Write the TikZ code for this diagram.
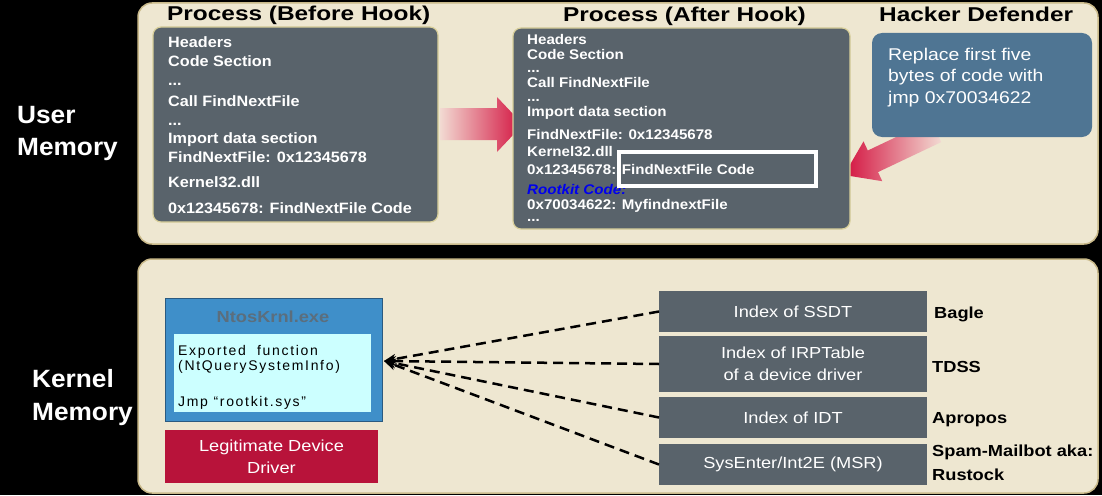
\documentclass[tikz,border=0pt]{standalone}
\usepackage{fontspec}
\setmainfont{Liberation Sans}
\newfontfamily\fT[FakeStretch=1.22]{Liberation Sans}
\newfontfamily\fL[FakeStretch=1.05]{Liberation Sans}
\newfontfamily\fB[FakeStretch=1.08]{Liberation Sans}
\newfontfamily\fA[FakeStretch=1.14]{Liberation Sans}
\newfontfamily\fS[LetterSpace=12]{Liberation Sans}
\usetikzlibrary{arrows.meta}
\definecolor{panel}{HTML}{EEE7D1}
\definecolor{panelline}{HTML}{C9B98A}
\definecolor{slate}{HTML}{59636B}
\definecolor{slateline}{HTML}{D8CF9A}
\definecolor{steel}{HTML}{4F7593}
\definecolor{ntosblue}{HTML}{3F8FC9}
\definecolor{ntosline}{HTML}{2A5A80}
\definecolor{cyanin}{HTML}{CCFFFF}
\definecolor{crimson}{HTML}{B8133A}
\definecolor{ntostitle}{HTML}{5B6E7D}
\definecolor{rkblue}{HTML}{0000EE}
\definecolor{arrowlight}{HTML}{F2DAD2}
\definecolor{arrowdark}{HTML}{D3123F}
\begin{document}
\begin{tikzpicture}[x=1pt,y=-1pt,
  panelbox/.style={fill=panel,draw=panelline,line width=1.5pt,rounded corners=14pt},
  darkbox/.style={fill=slate,draw=slateline,line width=1.2pt,rounded corners=8pt,inner sep=0pt,outer sep=0pt},
  sidelabel/.style={anchor=base west,inner sep=0pt,text=white,font=\fL\bfseries\fontsize{25}{30}\selectfont},
  titletext/.style={anchor=base west,inner sep=0pt,text=black,font=\fT\bfseries\fontsize{20}{24}\selectfont},
  beforetext/.style={anchor=base west,inner sep=0pt,text=white,font=\fB\bfseries\fontsize{15}{18}\selectfont},
  aftertext/.style={anchor=base west,inner sep=0pt,text=white,font=\fB\bfseries\fontsize{14}{17}\selectfont},
  hackertext/.style={anchor=base west,inner sep=0pt,text=white,font=\fA\fontsize{17}{20}\selectfont},
  tablebox/.style={fill=slate,inner sep=0pt,outer sep=0pt,minimum width=268pt,text=white,align=center,font=\fA\fontsize{16}{22}\selectfont},
  malware/.style={anchor=base west,inner sep=0pt,text=black,font=\fA\bfseries\fontsize{16}{19}\selectfont},
  inner/.style={anchor=base west,inner sep=0pt,text=black,font=\fS\fontsize{14}{17}\selectfont},
  hookline/.style={dash pattern=on 10pt off 6pt,line width=2.5pt,-{Stealth[length=12pt,width=10pt]}}
]
\useasboundingbox (0,0) rectangle (1102,495);
\fill[black] (0,0) rectangle (1102,495);

% panels
\draw[panelbox] (138,3) rectangle (1098,244);
\draw[panelbox] (138,259) rectangle (1098,493);

% side labels
\node[sidelabel] (lu1) at (17,123) {User};
\node[sidelabel] (lu2) at (17,155) {Memory};
\node[sidelabel] (lk1) at (32,387) {Kernel};
\node[sidelabel] (lk2) at (32,420) {Memory};

% titles
\node[titletext] (t1) at (167,21) {Process (Before Hook)};
\node[titletext] (t2) at (563,21.5) {Process (After Hook)};
\node[titletext] (t3) at (879,22) {Hacker Defender};

% big arrow between processes
\shade[left color=arrowlight,right color=arrowdark]
  (440,108) -- (497,108) -- (497,97) -- (523,124.5) -- (497,152) -- (497,140) -- (440,140) -- cycle;

% hacker arrow
\shade[left color=arrowdark,right color=arrowlight]
  (931.0,120.5) -- (867.8,150.5) -- (863.5,141.4) -- (844,175) -- (882.3,181.2) -- (878.0,172.1) -- (941.2,142.1) -- cycle;

% before box
\node[darkbox,minimum width=285pt,minimum height=195pt] (before) at (295.5,124.5) {};
\node[beforetext] (b1) at (168,47.7) {Headers};
\node[beforetext] (b2) at (168,66.7) {Code Section};
\node[beforetext] (b3) at (168,85) {...};
\node[beforetext] (b4) at (168,106) {Call FindNextFile};
\node[beforetext] (b5) at (168,125) {...};
\node[beforetext] (b6) at (168,143) {Import data section};
\node[beforetext] (b7) at (168,162.7) {FindNextFile: 0x12345678};
\node[beforetext] (b8) at (168,187.7) {Kernel32.dll};
\node[beforetext] (b9) at (168,213) {0x12345678: FindNextFile Code};

% after box
\node[darkbox,minimum width=337pt,minimum height=201pt] (after) at (681.5,128.5) {};
\node[aftertext] (a1) at (527,45) {Headers};
\node[aftertext] (a2) at (527,59.3) {Code Section};
\node[aftertext] (a3) at (527,72.3) {...};
\node[aftertext] (a4) at (527,87.3) {Call FindNextFile};
\node[aftertext] (a5) at (527,101.7) {...};
\node[aftertext] (a6) at (527,116.7) {Import data section};
\node[aftertext] (a7) at (527,139.3) {FindNextFile: 0x12345678};
\node[aftertext] (a8) at (527,156) {Kernel32.dll};
\node[aftertext] (a9) at (527,174) {0x12345678: FindNextFile Code};
\node[aftertext,text=rkblue,font=\fB\bfseries\itshape\fontsize{14}{17}\selectfont] (a10) at (527,194) {Rootkit Code:};
\node[aftertext] (a11) at (527,209.3) {0x70034622: MyfindnextFile};
\node[aftertext] (a12) at (527,221.5) {...};
\node[draw=white,line width=4pt,inner sep=0pt,minimum width=197pt,minimum height=34pt] (hl) at (717.5,169) {};

% hacker box
\node[fill=steel,rounded corners=10pt,inner sep=0pt,minimum width=220pt,minimum height=104pt] (hacker) at (982,85) {};
\node[hackertext] (h1) at (888,60) {Replace first five};
\node[hackertext] (h2) at (888,81.7) {bytes of code with};
\node[hackertext] (h3) at (888,103) {jmp 0x70034622};

% kernel: ntoskrnl
\node[fill=ntosblue,draw=ntosline,line width=1pt,inner sep=0pt,outer sep=0pt,minimum width=217pt,minimum height=123pt] (ntos) at (273.5,359.5) {};
\node[text=ntostitle,font=\fA\bfseries\fontsize{16}{19}\selectfont,anchor=base,inner sep=0pt] (ntt) at (273,322.7) {NtosKrnl.exe};
\node[fill=cyanin,inner sep=0pt,minimum width=197pt,minimum height=78pt] (inbox) at (272.5,373) {};
\node[inner] (i1) at (178,355) {Exported\ \ function};
\node[inner] (i2) at (178,370) {(NtQuerySystemInfo)};
\node[inner] (i3) at (178,406.7) {Jmp “rootkit.sys”};
\node[fill=crimson,inner sep=0pt,minimum width=213pt,minimum height=53pt,text=white,align=center,font=\fA\fontsize{16}{21.6}\selectfont] (legit) at (271.5,456.5) {Legitimate Device\\Driver};

% tables
\node[tablebox,minimum height=41pt] (ssdt) at (793,311.5) {Index of SSDT};
\node[tablebox,minimum height=56pt] (irp) at (793,364) {Index of IRPTable\\of a device driver};
\node[tablebox,minimum height=41pt] (idt) at (793,417.5) {Index of IDT};
\node[tablebox,minimum height=41pt] (msr) at (793,464.5) {SysEnter/Int2E (MSR)};

\node[malware] (m1) at (934,318.3) {Bagle};
\node[malware] (m2) at (932,372.3) {TDSS};
\node[malware] (m3) at (932,423) {Apropos};
\node[malware] (m4) at (932,456.7) {Spam-Mailbot aka:};
\node[malware] (m5) at (932,480) {Rustock};

% dashed connectors
\coordinate (tip) at (384,361);
\draw[hookline] (ssdt.west) -- (tip);
\draw[hookline] (irp.west) -- (tip);
\draw[hookline] (idt.west) -- (tip);
\draw[hookline] (msr.west) -- (tip);
\end{tikzpicture}
\end{document}
